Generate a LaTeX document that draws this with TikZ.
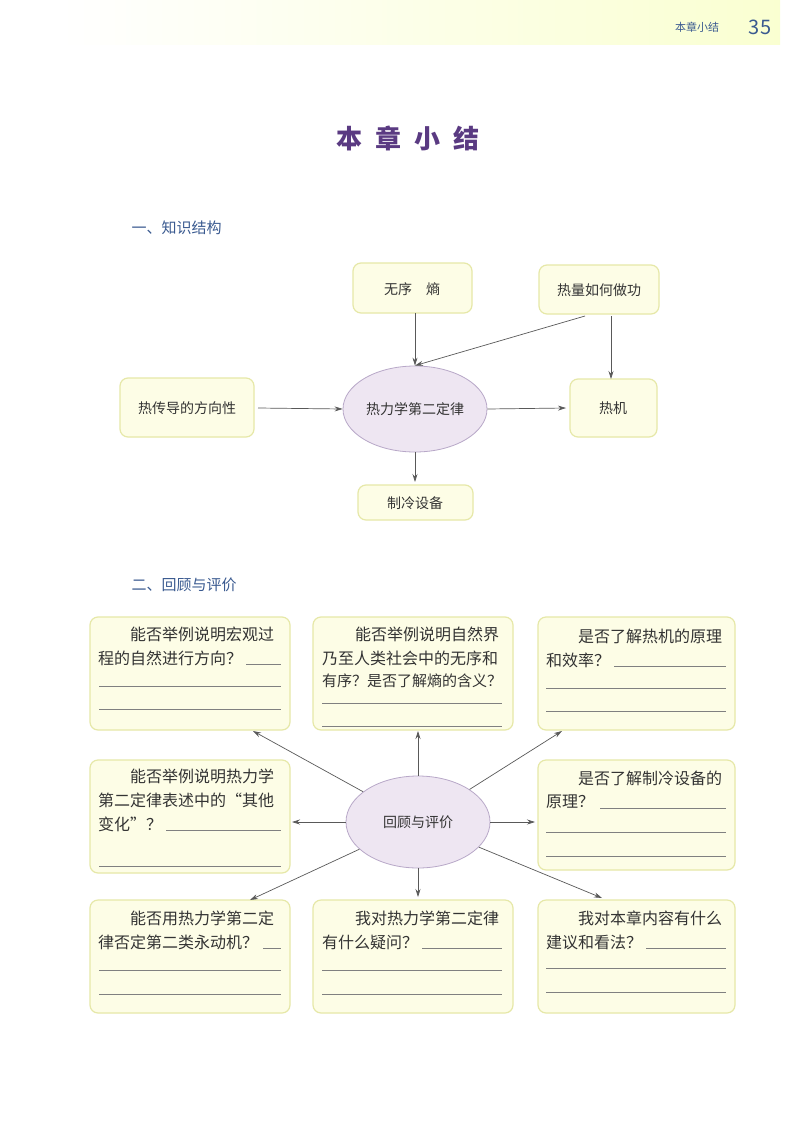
\documentclass[tikz,border=0pt]{standalone}
\usepackage{fontspec}
\setmainfont{Noto Sans CJK SC}
\usetikzlibrary{shapes.geometric,arrows.meta}
\definecolor{boxfill}{HTML}{FDFDE6}
\definecolor{boxline}{HTML}{E6E8A8}
\definecolor{ellfill}{HTML}{EEE6F2}
\definecolor{ellline}{HTML}{B8A8C8}
\definecolor{headblue}{HTML}{3A5A90}
\definecolor{titlepurple}{HTML}{5A3A82}
\begin{document}
\begin{tikzpicture}[x=1pt,y=-1pt,
  kbox/.style={draw=boxline,fill=boxfill,line width=1.2pt,rounded corners=8pt},
  ell/.style={draw=ellline,fill=ellfill,line width=0.8pt},
  arr/.style={-{Stealth[length=8pt,width=5pt]},draw=black!65,line width=0.7pt},
  txt/.style={font=\fontsize{14}{14}\selectfont,text=black!80,inner sep=0pt},
  bt/.style={font=\fontsize{16}{16}\selectfont,text=black!80,inner sep=0pt,anchor=west},
  blank/.style={draw=black!50,line width=0.6pt}]
\useasboundingbox (0,0) rectangle (800,1132);
\fill[white] (0,0) rectangle (800,1132);
\shade[left color=white,right color=green!12!yellow!18] (60,0) rectangle (780,45);
\node[font=\fontsize{11}{11}\selectfont,text=headblue] (hd) at (697,27) {本章小结};
\node[font=\fontsize{20}{20}\selectfont,text=headblue] (pg) at (760,27) {35};
\node[font=\fontsize{26}{26}\selectfont\bfseries,text=titlepurple] (title) at (408,138) {本\enspace 章\enspace 小\enspace 结};
\node[font=\fontsize{15}{15}\selectfont,text=headblue,anchor=west] (s1) at (128,228) {一、知识结构};
\node[font=\fontsize{15}{15}\selectfont,text=headblue,anchor=west] (s2) at (128,585) {二、回顾与评价};
% part 1
\draw[kbox] (353,263) rectangle (472,313); \node[txt] (wx) at (412,289) {无序\quad 熵};
\draw[kbox] (539,265) rectangle (659,314); \node[txt] (rl) at (599,290) {热量如何做功};
\draw[kbox] (120,378) rectangle (254,437); \node[txt] (cd) at (187,408) {热传导的方向性};
\draw[kbox] (570,379) rectangle (657,437); \node[txt] (rj) at (613,408) {热机};
\draw[kbox] (358,485) rectangle (473,520); \node[txt] (zl) at (415,503) {制冷设备};
\node[ell,ellipse,minimum width=144pt,minimum height=86pt,txt] (e1) at (415,409) {热力学第二定律};
\coordinate (a1) at (415,313); \coordinate (a2) at (585,316); \coordinate (a3) at (611,316);
\coordinate (b1) at (611,379); \coordinate (c1) at (258,408); \coordinate (c2) at (566,408);
\coordinate (d1) at (415,482);
\draw[arr] (a1) -- (e1.north);
\draw[arr] (a2) -- (e1.north);
\draw[arr] (a3) -- (b1);
\draw[arr] (c1) -- (e1.west);
\draw[arr] (e1.east) -- (c2);
\draw[arr] (e1.south) -- (d1);
% part 2 boxes
\draw[kbox] (90,617) rectangle (290,730);
\draw[kbox] (313,617) rectangle (513,730);
\draw[kbox] (538,617) rectangle (735,730);
\draw[kbox] (90,760) rectangle (290,873);
\draw[kbox] (538,760) rectangle (735,870);
\draw[kbox] (90,900) rectangle (290,1013);
\draw[kbox] (313,900) rectangle (513,1013);
\draw[kbox] (538,900) rectangle (735,1013);
% box texts
\node[bt] (t11) at (130,634) {能否举例说明宏观过};
\node[bt] (t12) at (98,658) {程的自然进行方向？};
\draw[blank] (246,664) -- (281,664) (99,686) -- (281,686) (99,709) -- (281,709);
\node[bt] (t21) at (355,634) {能否举例说明自然界};
\node[bt] (t22) at (322,658) {乃至人类社会中的无序和};
\node[bt,font=\fontsize{15}{15}\selectfont] (t23) at (322,681) {有序？是否了解熵的含义？};
\draw[blank] (322,703) -- (502,703) (322,726) -- (502,726);
\node[bt] (t31) at (578,636) {是否了解热机的原理};
\node[bt] (t32) at (546,660) {和效率？};
\draw[blank] (614,666) -- (726,666) (546,688) -- (726,688) (546,711) -- (726,711);
\node[bt] (t41) at (130,776) {能否举例说明热力学};
\node[bt] (t42) at (98,800) {第二定律表述中的“其他};
\node[bt] (t43) at (98,824) {变化”？};
\draw[blank] (166,830) -- (281,830) (99,866) -- (281,866);
\node[bt] (t51) at (578,778) {是否了解制冷设备的};
\node[bt] (t52) at (546,802) {原理？};
\draw[blank] (600,808) -- (726,808) (546,832) -- (726,832) (546,856) -- (726,856);
\node[bt] (t61) at (130,918) {能否用热力学第二定};
\node[bt] (t62) at (98,942) {律否定第二类永动机？};
\draw[blank] (263,948) -- (281,948) (99,970) -- (281,970) (99,994) -- (281,994);
\node[bt] (t71) at (355,918) {我对热力学第二定律};
\node[bt] (t72) at (322,942) {有什么疑问？};
\draw[blank] (422,948) -- (502,948) (322,970) -- (502,970) (322,994) -- (502,994);
\node[bt] (t81) at (578,918) {我对本章内容有什么};
\node[bt] (t82) at (546,942) {建议和看法？};
\draw[blank] (646,948) -- (726,948) (546,968) -- (726,968) (546,992) -- (726,992);
% center ellipse
\node[ell,ellipse,minimum width=144pt,minimum height=92pt,txt] (e2) at (418,822) {回顾与评价};
\coordinate (p1) at (253,731); \coordinate (p2) at (418,731); \coordinate (p3) at (562,731);
\coordinate (p4) at (292,822); \coordinate (p5) at (535,822); \coordinate (p6) at (250,900);
\coordinate (p7) at (418,897); \coordinate (p8) at (602,898);
\foreach \p in {p1,p2,p3,p4,p5,p6,p7,p8} \draw[arr] (e2) -- (\p);
\end{tikzpicture}
\end{document}
